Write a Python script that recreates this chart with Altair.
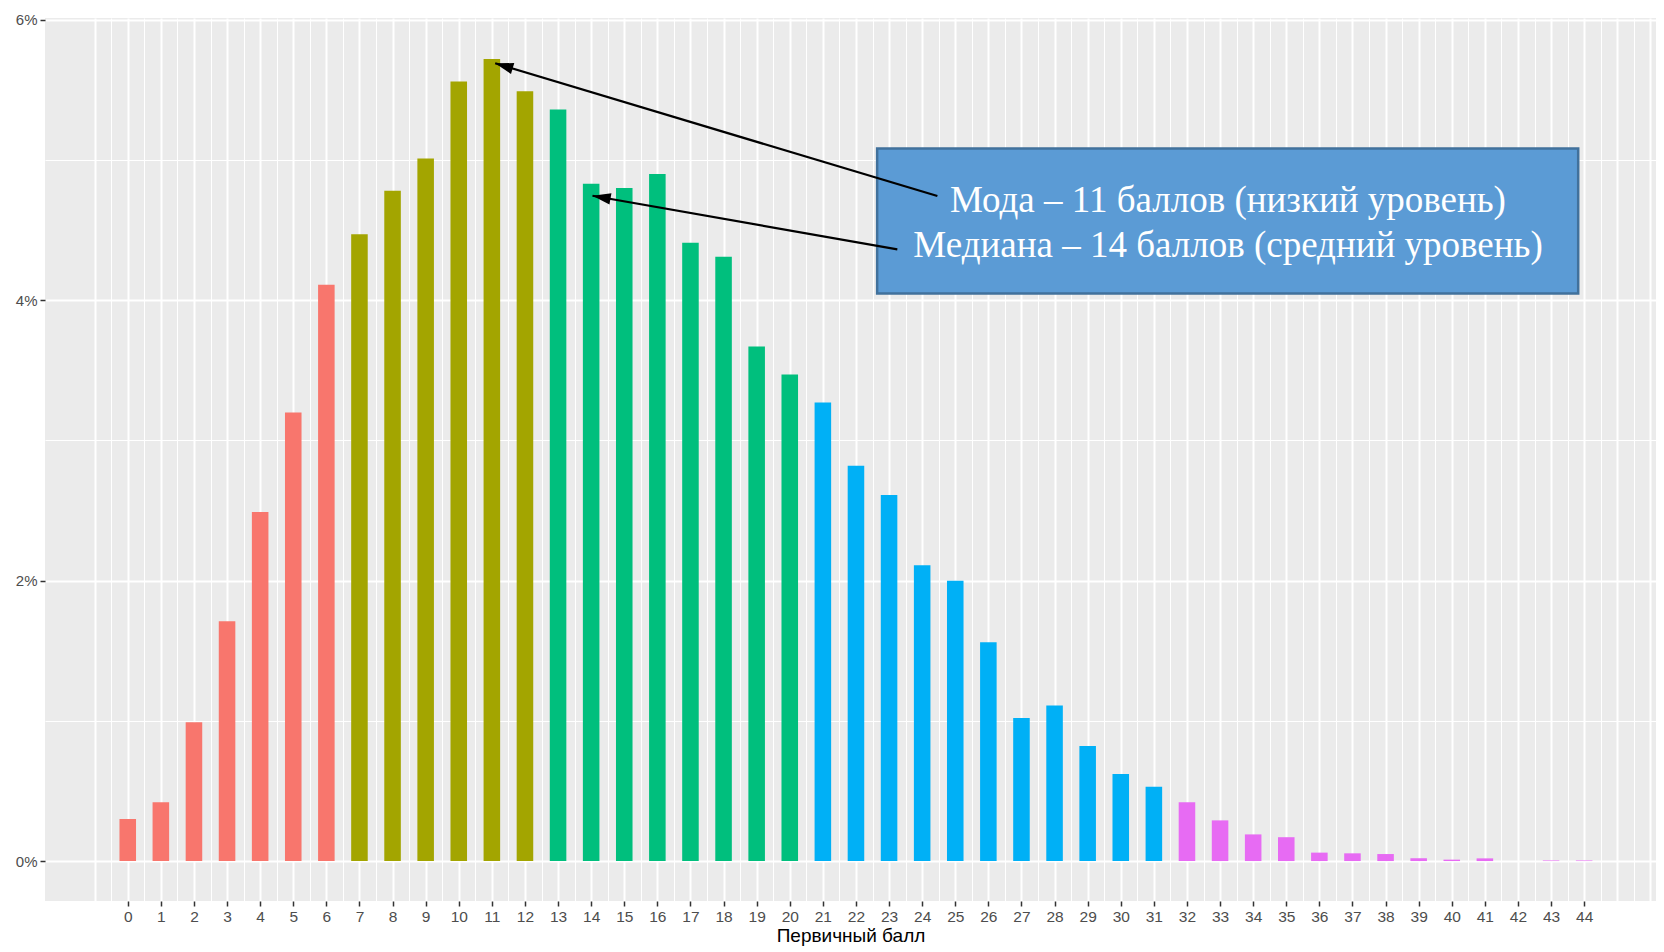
import altair as alt
import pandas as pd

# ---- data ----
scores = list(range(45))
percents = [0.30, 0.42, 0.99, 1.71, 2.49, 3.20, 4.11, 4.47, 4.78, 5.01,
            5.56, 5.72, 5.49, 5.36, 4.83, 4.80, 4.90, 4.41, 4.31, 3.67,
            3.47, 3.27, 2.82, 2.61, 2.11, 2.00, 1.56, 1.02, 1.11, 0.82,
            0.62, 0.53, 0.42, 0.29, 0.19, 0.17, 0.06, 0.055, 0.05, 0.02,
            0.01, 0.019, 0.0, 0.004, 0.004]
level_names = ["L1", "L2", "L3", "L4", "L5"]
level_start = [0, 7, 13, 21, 32]
level_colors = ["#F8766D", "#A3A500", "#00BF7D", "#00B0F6", "#E76BF3"]
y_tick_values = [0, 1, 2, 3, 4, 5, 6]

levels = []
for s in scores:
    name = level_names[0]
    for n, st in zip(level_names, level_start):
        if s >= st:
            name = n
    levels.append(name)

df = pd.DataFrame({"score": scores, "pct": percents, "level": levels})

# annotation content
box_lines = ["Мода – 11 баллов (низкий уровень)",
             "Медиана – 14 баллов (средний уровень)"]
arrow_tip_x = [11.10, 14.04]
arrow_tip_y = [5.690, 4.745]
arrow_start_x = [24.46, 23.25]
arrow_start_y = [4.743, 4.363]
arrow_angle = [286.7, 280.0]
box_x = [22.64]
box_x2 = [43.82]
box_y = [5.083]
box_y2 = [4.048]
text_x = [33.24, 33.24]
text_y = [4.631, 4.310]

# ---- scales / axes ----
xscale = alt.Scale(domain=[-2.5, 46.17], nice=False, zero=False)
yscale = alt.Scale(domain=[-0.285, 6.013], nice=False, zero=False)

x_grid_vals = [v / 2 for v in range(-2, 93)]
is_xtick = "datum.value >= 0 && datum.value <= 44 && datum.value % 1 == 0"
x_axis = alt.Axis(
    values=x_grid_vals,
    title="Первичный балл",
    labelExpr=f"({is_xtick}) ? '' + datum.value : ''",
    labelOverlap=False, labelFlush=False,
    labelFont="Liberation Sans", labelFontSize=15.5, labelColor="#4D4D4D",
    labelPadding=3,
    tickColor="#333333", tickSize=5, tickWidth=1.5,
    tickOpacity={"condition": {"test": is_xtick, "value": 1}, "value": 0},
    grid=True, gridColor="white",
    gridWidth={"condition": {"test": "datum.value % 1 == 0", "value": 2}, "value": 1},
    domain=False,
    titleFont="Liberation Sans", titleFontSize=19, titleColor="black",
    titleFontWeight="normal", titlePadding=2,
)
is_ytick = "datum.value % 2 == 0"
y_axis = alt.Axis(
    values=y_tick_values,
    title="",
    labelExpr=f"({is_ytick}) ? datum.value + '%' : ''",
    labelOverlap=False, labelFlush=False,
    labelFont="Liberation Sans", labelFontSize=15, labelColor="#4D4D4D",
    labelPadding=3,
    tickColor="#333333", tickSize=5, tickWidth=1.5,
    tickOpacity={"condition": {"test": is_ytick, "value": 1}, "value": 0},
    grid=True, gridColor="white",
    gridWidth={"condition": {"test": is_ytick, "value": 2}, "value": 1},
    domain=False,
)

bars = alt.Chart(df).transform_calculate(
    lo="datum.score - 0.25", hi="datum.score + 0.25"
).mark_bar(strokeWidth=0).encode(
    x=alt.X("lo:Q", scale=xscale, axis=x_axis),
    x2="hi:Q",
    y=alt.Y("pct:Q", scale=yscale, axis=y_axis),
    y2=alt.datum(0),
    color=alt.Color("level:N", scale=alt.Scale(domain=level_names, range=level_colors), legend=None),
)

box_df = pd.DataFrame({"x": box_x, "x2": box_x2, "y": box_y, "y2": box_y2})
box = alt.Chart(box_df).mark_rect(fill="#5B9BD5", stroke="#41719C", strokeWidth=2.5).encode(
    x=alt.X("x:Q", scale=xscale, axis=x_axis), x2="x2:Q",
    y=alt.Y("y:Q", scale=yscale, axis=y_axis), y2="y2:Q",
)

arr_df = pd.DataFrame({"tx": arrow_tip_x, "ty": arrow_tip_y,
                       "sx": arrow_start_x, "sy": arrow_start_y, "ang": arrow_angle})
lines = alt.Chart(arr_df).mark_rule(color="black", strokeWidth=2.2).encode(
    x=alt.X("sx:Q", scale=xscale, axis=x_axis), x2="tx:Q",
    y=alt.Y("sy:Q", scale=yscale, axis=y_axis), y2="ty:Q",
)
heads = alt.Chart(arr_df).mark_point(
    shape="M0,0L-0.5,1.6L0.5,1.6Z", filled=True, color="black", opacity=1,
    size=520, strokeWidth=0,
).encode(
    x=alt.X("tx:Q", scale=xscale, axis=x_axis),
    y=alt.Y("ty:Q", scale=yscale, axis=y_axis),
    angle=alt.Angle("ang:Q", scale=None),
)

txt_df = pd.DataFrame({"x": text_x, "y": text_y, "t": box_lines})
texts = alt.Chart(txt_df).mark_text(
    font="Liberation Serif", fontSize=37, color="white",
    align="center", baseline="alphabetic",
).encode(
    x=alt.X("x:Q", scale=xscale, axis=x_axis),
    y=alt.Y("y:Q", scale=yscale, axis=y_axis),
    text="t:N",
)

chart = alt.layer(bars, box, lines, heads, texts).properties(
    width=1611, height=883,
    padding={"left": 37, "top": 10, "right": 0, "bottom": 45},
    autosize=alt.AutoSizeParams(type="none"),
    background="white",
).configure_view(fill="#EBEBEB", strokeWidth=0)

chart.save("out.html", embed_options={"renderer": "svg", "actions": False})
